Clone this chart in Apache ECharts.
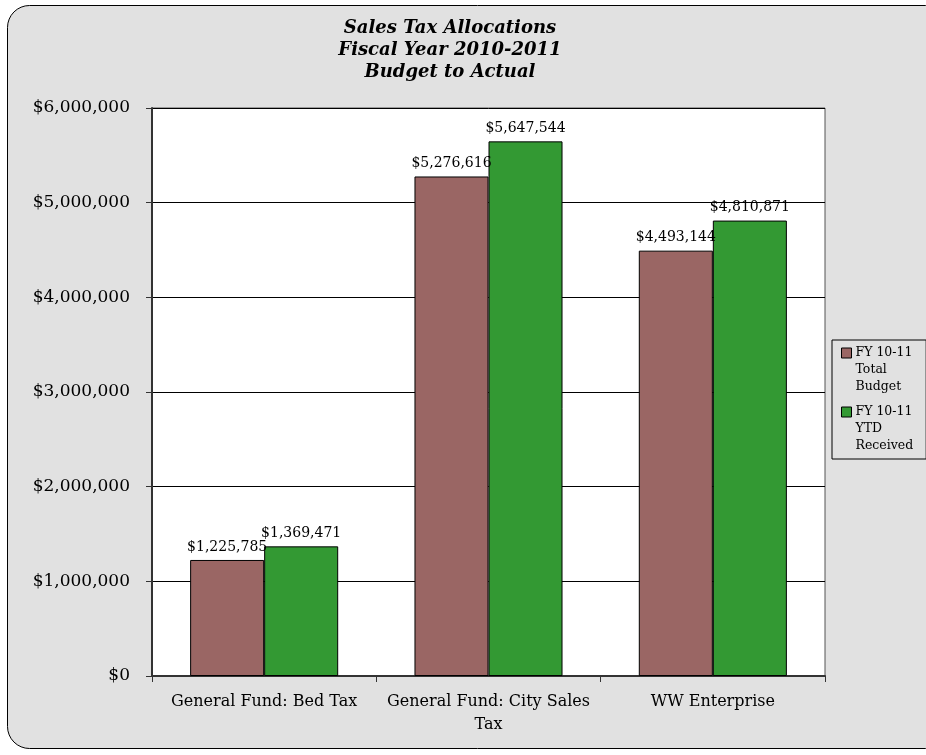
<!DOCTYPE html>
<html><head><meta charset="utf-8">
<script src="https://cdn.jsdelivr.net/npm/echarts@6/dist/echarts.min.js"></script>
<style>html,body{margin:0;padding:0;background:#fff}#c{width:926px;height:755px}</style>
</head><body><div id="c"></div>
<script>
var categories = ['General Fund: Bed Tax', 'General Fund: City Sales\nTax', 'WW Enterprise'];
var seriesNames = ['FY 10-11\nTotal\nBudget', 'FY 10-11\nYTD\nReceived'];
var budget = [1225785, 5276616, 4493144];
var received = [1369471, 5647544, 4810871];
var yTicks = [0, 1000000, 2000000, 3000000, 4000000, 5000000, 6000000];

var F = 'DejaVu Serif';
function money(v){ return '$' + Math.round(v).toString().replace(/\B(?=(\d{3})+(?!\d))/g, ','); }
var chart = echarts.init(document.getElementById('c'));
var lbl = {show:true, position:'top', distance:6, fontFamily:F, fontSize:14, color:'#000', formatter:function(p){return money(p.value);}};
// legend marker: a square sitting at the first text line of a 3-line label
var legendIcon = 'path://M0,0 M0,51 M0,3.5 L10,3.5 L10,13.5 L0,13.5 Z';
chart.setOption({
  backgroundColor:'#fff',
  animation:false,
  graphic:[{type:'rect', z:-10, shape:{x:7.5,y:5.5,width:940,height:743,r:22}, style:{fill:'#e1e1e1', stroke:'#000', lineWidth:1}}],
  title:{text:'Sales Tax Allocations\nFiscal Year 2010-2011\nBudget to Actual', left:445, textAlign:'center', top:12,
    textStyle:{fontFamily:F, fontStyle:'italic', fontWeight:'bold', fontSize:18, lineHeight:22, color:'#000'}},
  legend:{orient:'vertical', left:832, top:340, padding:[4,13,4,9], itemGap:7, itemWidth:10, itemHeight:51,
    icon:legendIcon, symbolKeepAspect:false,
    borderColor:'#000', borderWidth:1, backgroundColor:'transparent',
    textStyle:{fontFamily:F, fontSize:12.5, lineHeight:17, color:'#000', padding:[0,0,0,-1]},
    data:[{name:seriesNames[0], itemStyle:{borderColor:'#000', borderWidth:1}},{name:seriesNames[1], itemStyle:{borderColor:'#000', borderWidth:1}}]},
  grid:{left:152, right:101, top:108, bottom:79, show:true, backgroundColor:'#fff', borderColor:'#555', borderWidth:1},
  xAxis:{type:'category', data:categories,
    axisLine:{lineStyle:{color:'#333', width:2}},
    axisTick:{show:true, length:6, lineStyle:{color:'#333'}},
    axisLabel:{fontFamily:F, fontSize:16, color:'#000', margin:14, lineHeight:23, interval:0}},
  yAxis:{type:'value', min:yTicks[0], max:yTicks[yTicks.length-1], interval:yTicks[1]-yTicks[0],
    axisLine:{show:true, lineStyle:{color:'#333', width:2}},
    axisTick:{show:true, length:6, lineStyle:{color:'#333'}},
    splitLine:{lineStyle:{color:'#000', width:1}},
    axisLabel:{fontFamily:F, fontSize:17, color:'#000', margin:22, formatter:function(v){return money(v);}}},
  series:[
    {name:seriesNames[0], type:'bar', data:budget, barGap:'0%', barCategoryGap:'34%',
      itemStyle:{color:'#9a6664', borderColor:'#000', borderWidth:1}, label:lbl},
    {name:seriesNames[1], type:'bar', data:received,
      itemStyle:{color:'#339933', borderColor:'#000', borderWidth:1}, label:lbl}
  ]
});
</script></body></html>
